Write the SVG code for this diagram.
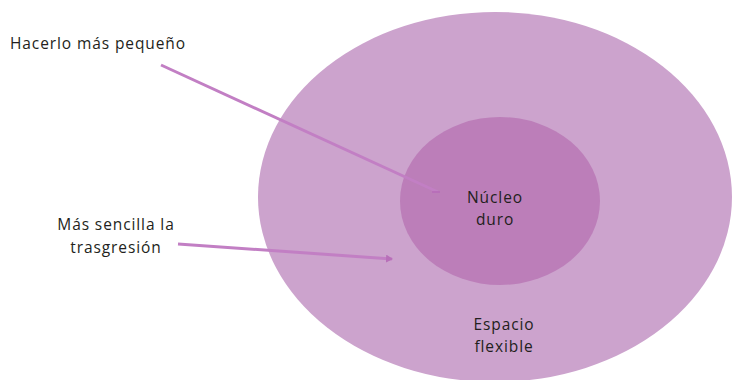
<svg xmlns="http://www.w3.org/2000/svg" width="734" height="380" viewBox="0 0 734 380">
<style>
text{font-family:"Open Sans","Liberation Sans",Arial,sans-serif;font-size:15.5px;font-weight:500;letter-spacing:0.9px;fill:#231f20;}
.c{text-anchor:middle;}
.arr{stroke:#c27fc4;stroke-width:3;fill:none;}
</style>
<defs>
<marker id="ah" markerWidth="8" markerHeight="8" refX="6" refY="4" orient="auto" markerUnits="userSpaceOnUse">
<path d="M0,0 L7,4 L0,8 z" fill="#b86fb9"/>
</marker>
</defs>
<rect width="734" height="380" fill="#ffffff"/>
<g id="espacio-flexible">
<ellipse cx="495" cy="197" rx="237" ry="185" fill="#cca3cd"/>
<text class="c" x="504" y="330">Espacio</text>
<text class="c" x="504" y="352">flexible</text>
</g>
<g id="nucleo-duro">
<ellipse cx="500" cy="201" rx="100" ry="84" fill="#bc7eb9"/>
<text class="c" x="495" y="203">Núcleo</text>
<text class="c" x="495" y="225">duro</text>
</g>
<g id="label-pequeno">
<text x="10" y="49">Hacerlo más pequeño</text>
</g>
<g id="label-trasgresion">
<text class="c" x="116" y="230">Más sencilla la</text>
<text class="c" x="116" y="253">trasgresión</text>
</g>
<g id="connectors">
<path class="arr" d="M161,65 L438,192"/>
<path d="M432,192 L440,192" stroke="#b86fb9" stroke-width="2"/>
<path class="arr" d="M178,244 L392,259" marker-end="url(#ah)"/>
</g>
</svg>
